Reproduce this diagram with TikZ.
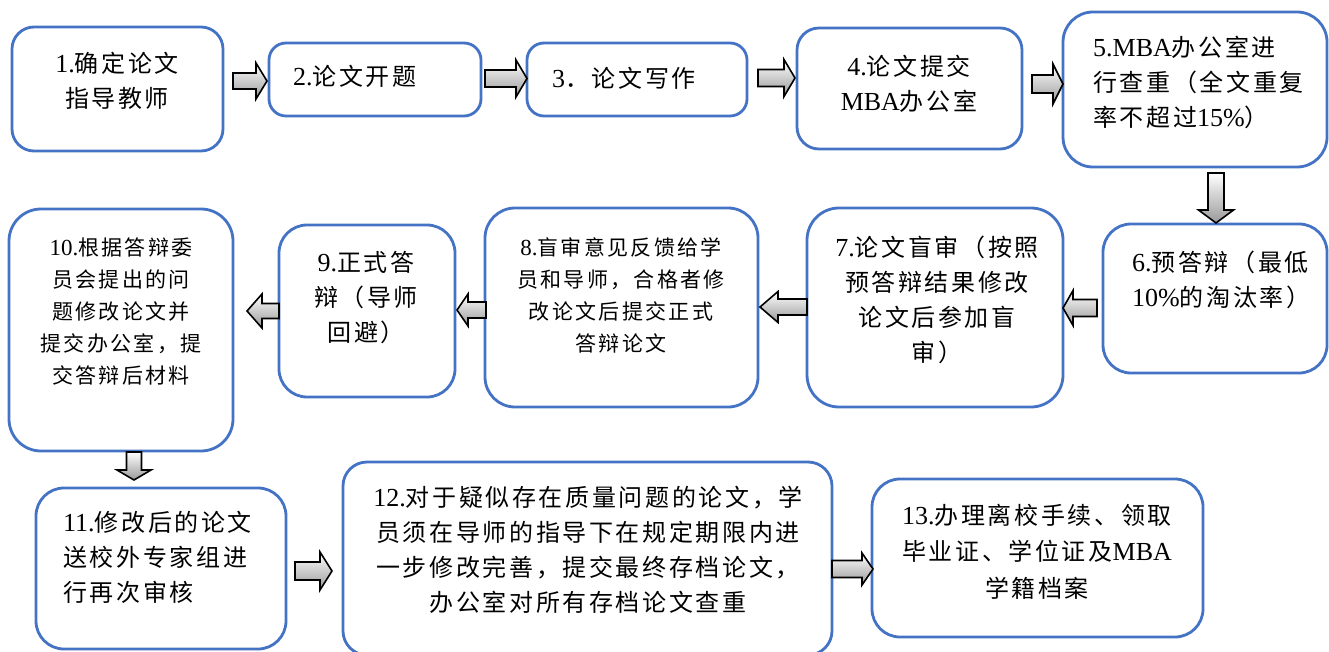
\documentclass[tikz,border=0pt]{standalone}
\usepackage{fontspec}
\setmainfont{Liberation Serif}
\newfontfamily\cjkfont[LetterSpace=11]{Noto Sans CJK SC}
\newcommand\la[1]{{\rmfamily\fontsize{26}{35}\selectfont #1}}
\newcommand\lb[1]{{\rmfamily\fontsize{23}{32}\selectfont #1}}
\definecolor{boxblue}{HTML}{4472C4}
\tikzset{
 box/.style={draw=boxblue, line width=2.8pt, fill=white, inner sep=0pt},
 txt/.style={inner sep=0pt, font=\cjkfont\fontsize{24}{35}\selectfont, text=black},
 txtsmall/.style={inner sep=0pt, font=\cjkfont\fontsize{21}{32}\selectfont, text=black},
 arrowfill/.style={draw=black, line width=1.6pt, line join=miter, top color=white, bottom color=black!40},
 pics/barrow/.style n args={4}{code={
   \path[arrowfill] (0,-#2) -- ({#1-#4},-#2) -- ({#1-#4},-#3) -- (#1,0) -- ({#1-#4},#3) -- ({#1-#4},#2) -- (0,#2) -- cycle;
 }}
}
\begin{document}
\begin{tikzpicture}[x=1pt,y=1pt]
\useasboundingbox (0,0) rectangle (1329,-652);
% boxes
\node[box, rounded corners=22pt, minimum width=211pt, minimum height=124pt] (b1) at (117.5,-89) {};
\node[box, rounded corners=17pt, minimum width=212pt, minimum height=73pt] (b2) at (375,-79.5) {};
\node[box, rounded corners=17pt, minimum width=220pt, minimum height=73pt] (b3) at (637,-79.5) {};
\node[box, rounded corners=22pt, minimum width=225pt, minimum height=121pt] (b4) at (909.5,-88.5) {};
\node[box, rounded corners=30pt, minimum width=264pt, minimum height=155pt] (b5) at (1195,-89.5) {};
\node[box, rounded corners=28pt, minimum width=224pt, minimum height=149pt] (b6) at (1215,-298.5) {};
\node[box, rounded corners=32pt, minimum width=256pt, minimum height=199pt] (b7) at (935,-307.5) {};
\node[box, rounded corners=30pt, minimum width=273pt, minimum height=199pt] (b8) at (621.5,-307.5) {};
\node[box, rounded corners=28pt, minimum width=176pt, minimum height=172pt] (b9) at (367,-311) {};
\node[box, rounded corners=32pt, minimum width=224pt, minimum height=242pt] (b10) at (121,-330) {};
\node[box, rounded corners=28pt, minimum width=250pt, minimum height=161pt] (b11) at (161,-568.5) {};
\node[box, rounded corners=24pt, minimum width=489pt, minimum height=193pt] (b12) at (587.5,-558.5) {};
\node[box, rounded corners=28pt, minimum width=331pt, minimum height=158pt] (b13) at (1037.5,-558) {};
% texts
\node[txt, align=center] (t1) at (117,-80.5) {\la{1.}确定论文\\指导教师};
\node[txt, anchor=west] (t2) at (293,-76) {\la{2.}论文开题};
\node[txt, anchor=west] (t3) at (552,-78) {\la{3}．论文写作};
\node[txt, align=center] (t4) at (909,-83.5) {\la{4.}论文提交\\\la{MBA}办公室};
\node[txt, align=left, anchor=west] (t5) at (1093,-82.7) {\la{5.MBA}办公室进\\行查重（全文重复\\率不超过\la{15\%}）};
\node[txt, align=left, anchor=west] (t6) at (1132,-280) {\la{6.}预答辩（最低\\\la{10\%}的淘汰率）};
\node[txt, align=center] (t7) at (937,-299.5) {\la{7.}论文盲审（按照\\预答辩结果修改\\论文后参加盲\\审）};
\node[txtsmall, align=center] (t8) at (621,-295.5) {\lb{8.}盲审意见反馈给学\\员和导师，合格者修\\改论文后提交正式\\答辩论文};
\node[txt, align=center] (t9) at (366,-298) {\la{9.}正式答\\辩（导师\\回避）};
\node[txtsmall, align=center] (t10) at (121,-311.6) {\lb{10.}根据答辩委\\员会提出的问\\题修改论文并\\提交办公室，提\\交答辩后材料};
\node[txt, align=left, anchor=west] (t11) at (63,-557.7) {\la{11.}修改后的论文\\送校外专家组进\\行再次审核};
\node[txt, align=center] (t12) at (588,-549.8) {\la{12.}对于疑似存在质量问题的论文，学\\员须在导师的指导下在规定期限内进\\一步修改完善，提交最终存档论文，\\办公室对所有存档论文查重};
\node[txt, align=center, font=\cjkfont\fontsize{24}{36.5}\selectfont] (t13) at (1037,-551.7) {\la{13.}办理离校手续、领取\\毕业证、学位证及\la{MBA}\\学籍档案};
% block arrows
\pic at (233,-81) {barrow={34}{8}{18}{11}};
\pic at (485,-78.5) {barrow={42}{8.5}{18.5}{11}};
\pic at (758,-78) {barrow={37}{8.5}{18.5}{11}};
\pic at (1032,-84) {barrow={31}{9}{20}{10}};
\pic[rotate=-90] at (1216,-173) {barrow={50}{8}{17.5}{13}};
\pic[rotate=180] at (1097,-308) {barrow={34}{8.5}{17.5}{10}};
\pic[rotate=180] at (807,-307) {barrow={47}{8}{15.5}{18}};
\pic[rotate=180] at (486,-310) {barrow={29}{8}{16}{11}};
\pic[rotate=180] at (279,-311) {barrow={32}{7.5}{17}{15}};
\pic[rotate=-90] at (134,-452) {barrow={28}{7.5}{17}{10}};
\pic at (295,-571) {barrow={37}{9}{19}{12}};
\pic at (832,-569) {barrow={41}{8.5}{16}{11}};
\end{tikzpicture}
\end{document}
